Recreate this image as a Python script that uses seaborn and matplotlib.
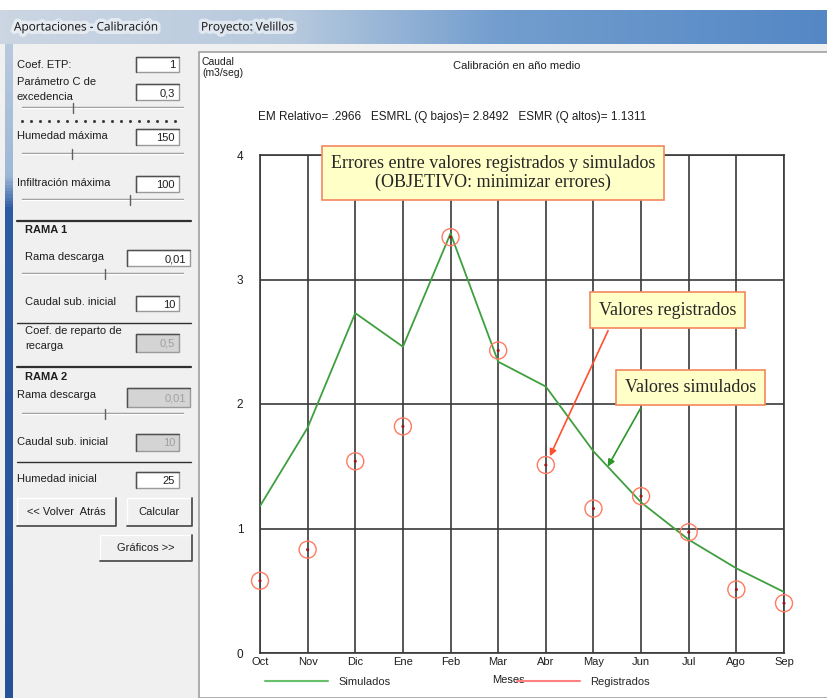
import numpy as np
import pandas as pd
import seaborn as sns
import matplotlib.pyplot as plt
import matplotlib.patheffects as pe
from matplotlib.patches import Rectangle
from matplotlib.lines import Line2D

# datos del grafico
meses = ['Oct', 'Nov', 'Dic', 'Ene', 'Feb', 'Mar', 'Abr', 'May', 'Jun', 'Jul', 'Ago', 'Sep']
simulados = [1.18, 1.81, 2.73, 2.46, 3.37, 2.34, 2.14, 1.62, 1.21, 0.91, 0.68, 0.49]
registrados = [0.58, 0.83, 1.54, 1.82, 3.34, 2.43, 1.51, 1.16, 1.26, 0.97, 0.51, 0.40]
y_ticks = [0, 1, 2, 3, 4]

# valores del panel izquierdo
coef_etp = '1'
param_c = '0,3'
humedad_max = '150'
infiltracion_max = '100'
rama1_descarga = '0,01'
rama1_caudal = '10'
coef_reparto = '0,5'
rama2_descarga = '0,01'
rama2_caudal = '10'
humedad_ini = '25'

titulo_ventana = 'Aportaciones - Calibración'
proyecto = 'Proyecto: Velillos'
errores = 'EM Relativo= .2966   ESMRL (Q bajos)= 2.8492   ESMR (Q altos)= 1.1311'

sns.set_style('white')
plt.rcParams['font.family'] = ['Liberation Sans', 'DejaVu Sans']

W, H = 828, 698
fig = plt.figure(figsize=(W / 100, H / 100), dpi=100)

# fondo en pixeles (ventana)
bg = fig.add_axes([0, 0, 1, 1])
bg.set_xlim(0, W)
bg.set_ylim(H, 0)
bg.axis('off')
bg.add_patch(Rectangle((0, 0), W, H, fc='#f0f0f0', ec='none'))
bg.add_patch(Rectangle((0, 0), W, 10, fc='white', ec='none'))

# barra de titulo con degradado
t = np.linspace(0, 1, 300)
stops = [0, 0.35, 0.6, 1]
cols = np.array([[0.80, 0.84, 0.89], [0.72, 0.79, 0.87], [0.45, 0.62, 0.81], [0.33, 0.53, 0.77]])
grad = np.stack([np.interp(t, stops, cols[:, i]) for i in range(3)], axis=-1)[None, :, :]
bg.imshow(grad, extent=(0, W, 44, 10), aspect='auto', zorder=1)
glow = [pe.withStroke(linewidth=5, foreground='white', alpha=0.55)]
bg.text(14, 27, titulo_ventana, fontsize=8.5, family='Open Sans', color='#1a1a1a', va='center', path_effects=glow, zorder=2)
bg.text(201, 27, proyecto, fontsize=8.5, family='Open Sans', color='#1a1a1a', va='center', path_effects=glow, zorder=2)

# franja azul a la izquierda
v = np.linspace(0, 1, 200)
vcols = np.array([[0.72, 0.79, 0.87], [0.62, 0.72, 0.84], [0.18, 0.36, 0.64], [0.15, 0.32, 0.60]])
vgrad = np.stack([np.interp(v, [0, 0.2, 0.25, 1], vcols[:, i]) for i in range(3)], axis=-1)[:, None, :]
bg.imshow(vgrad, extent=(5, 13, H, 44), aspect='auto', zorder=1)
bg.set_xlim(0, W)
bg.set_ylim(H, 0)

fs = 8


def etiqueta(x, y, txt, **kw):
    bg.text(x, y, txt, fontsize=fs, va='center', color='#1e1e1e', zorder=3, **kw)


def caja(x0, x1, y0, y1, txt, activo=True):
    bg.add_patch(Rectangle((x0, y0), x1 - x0, y1 - y0, fc='white' if activo else '#d4d4d4',
                           ec='#9a9a9a', lw=1, zorder=2))
    bg.plot([x0, x0, x1], [y1, y0, y0], color='#505050', lw=1, zorder=3)
    bg.text(x1 - 4, (y0 + y1) / 2 + 1, txt, fontsize=fs, ha='right', va='center',
            color='#1e1e1e' if activo else '#a0a0a0', zorder=3)


def deslizador(y, xt, x0=22, x1=183):
    bg.plot([x0, x1], [y, y], color='#8c8c8c', lw=1, zorder=2)
    bg.plot([x0, x1], [y + 1.2, y + 1.2], color='white', lw=1, zorder=2)
    bg.plot([xt, xt], [y - 4, y + 6], color='#606060', lw=1, zorder=3)


def separador(y, lw=1.6):
    bg.plot([17, 191], [y, y], color='#303030', lw=lw, zorder=2)


def boton(x0, x1, y0, y1, txt):
    bg.add_patch(Rectangle((x0, y0), x1 - x0, y1 - y0, fc='#f0f0f0', ec='white', lw=1, zorder=2))
    bg.plot([x0, x1, x1], [y1, y1, y0], color='#505050', lw=1.3, zorder=3)
    bg.text((x0 + x1) / 2, (y0 + y1) / 2, txt, fontsize=fs, ha='center', va='center', color='#1e1e1e', zorder=3)


etiqueta(17, 65, 'Coef. ETP:')
caja(136, 179, 57, 72, coef_etp)
etiqueta(17, 82, 'Parámetro C de')
etiqueta(17, 97, 'excedencia')
caja(136, 179, 84, 100, param_c)
deslizador(107, 73)
puntos = np.arange(22, 184, 9)
bg.scatter(puntos, np.full(len(puntos), 121), s=1.5, color='#404040', zorder=3)
etiqueta(17, 136, 'Humedad máxima')
caja(136, 179, 129, 145, humedad_max)
deslizador(153, 72)
etiqueta(17, 183, 'Infiltración máxima')
caja(136, 179, 176, 192, infiltracion_max)
deslizador(199, 130)

separador(221)
etiqueta(25, 230, 'RAMA 1', fontweight='bold')
etiqueta(25, 257, 'Rama descarga')
caja(127, 190, 250, 266, rama1_descarga)
deslizador(273, 105)
etiqueta(25, 302, 'Caudal sub. inicial')
caja(136, 179, 296, 311, rama1_caudal)
separador(323, lw=1)
etiqueta(25, 331, 'Coef. de reparto de')
etiqueta(25, 346, 'recarga')
caja(136, 179, 334, 352, coef_reparto, activo=False)

separador(367)
etiqueta(25, 377, 'RAMA 2', fontweight='bold')
etiqueta(17, 395, 'Rama descarga')
caja(127, 190, 388, 407, rama2_descarga, activo=False)
deslizador(413, 105)
etiqueta(17, 442, 'Caudal sub. inicial')
caja(136, 179, 434, 451, rama2_caudal, activo=False)
separador(462, lw=1)
etiqueta(17, 479, 'Humedad inicial')
caja(136, 179, 472, 488, humedad_ini)
boton(17, 116, 498, 526, '<< Volver  Atrás')
boton(127, 192, 498, 526, 'Calcular')
boton(100, 192, 535, 561, 'Gráficos >>')

# panel del grafico
bg.add_patch(Rectangle((199, 52), W - 199, H - 52, fc='white', ec='#a0a0a0', lw=1.2, zorder=2))
bg.text(202, 57, 'Caudal\n(m3/seg)', fontsize=7.5, va='top', ha='left', color='#1e1e1e', linespacing=1.1, zorder=3)
bg.text(517, 66, 'Calibración en año medio', fontsize=8, ha='center', va='center', color='#1e1e1e', zorder=3)
bg.text(258, 117, errores, fontsize=8.5, ha='left', va='center', color='#1e1e1e', zorder=3)

# grafico
ax = fig.add_axes([260 / W, 1 - 653 / H, 524 / W, 498 / H])
ax.set_facecolor('white')
df = pd.DataFrame({'mes': np.arange(len(meses)), 'Simulados': simulados, 'Registrados': registrados})

sns.lineplot(data=df, x='mes', y='Simulados', color='#3f9f3f', lw=1.3, ax=ax, zorder=3)
sns.scatterplot(data=df, x='mes', y='Registrados', marker='o', s=150, facecolor='none',
                edgecolor='#ff7a60', linewidth=1, ax=ax, zorder=4, clip_on=False)
sns.scatterplot(data=df, x='mes', y='Registrados', marker='o', s=5, color='#a01818',
                edgecolor='none', ax=ax, zorder=5, clip_on=False)

ax.set_xlim(0, len(meses) - 1)
ax.set_ylim(y_ticks[0], y_ticks[-1])
ax.set_xticks(df['mes'])
ax.set_xticklabels(meses)
ax.set_yticks(y_ticks)
ax.grid(True, color='#3a3a3a', lw=1.2)
ax.set_axisbelow(True)
for s in ax.spines.values():
    s.set_color('#3a3a3a')
    s.set_linewidth(1.2)
ax.tick_params(axis='x', length=0, pad=3, labelsize=8, colors='#1e1e1e')
ax.tick_params(axis='y', length=0, pad=12, labelsize=8.5, colors='#1e1e1e')
ax.set_xlabel('Meses', fontsize=8, color='#1e1e1e')
ax.xaxis.set_label_coords(0.475, -0.045)
ax.set_ylabel('')

# leyenda
handles = [Line2D([], [], color='#6abf6a', lw=1.5), Line2D([], [], color='#ff8080', lw=1.5)]
ax.legend(handles, ['Simulados', 'Registrados'], ncol=2, frameon=False, fontsize=8,
          loc='center left', bbox_to_anchor=(0.0095, -0.058), borderpad=0, borderaxespad=0,
          handlelength=5.7, handletextpad=0.9, columnspacing=11.4)

# anotaciones
caja_nota = dict(boxstyle='square,pad=0.5', fc='#ffffc8', ec='#f5875f', lw=1.2)
nota_font = dict(family='Liberation Serif', fontsize=13, color='#262626')
ax.text(4.89, 3.855, 'Errores entre valores registrados y simulados\n(OBJETIVO: minimizar errores)',
        ha='center', va='center', bbox=caja_nota, linespacing=1.15, zorder=6, **nota_font)
ax.annotate('Valores registrados', xy=(6, registrados[6]), xytext=(8.55, 2.755),
            ha='center', va='center', bbox=caja_nota, zorder=6,
            arrowprops=dict(arrowstyle='-|>', color='#ff5030', lw=1.2, shrinkB=7,
                            relpos=(0.11, 0), mutation_scale=10), **nota_font)
x_sim = 7.3
ax.annotate('Valores simulados', xy=(x_sim, np.interp(x_sim, df['mes'], simulados)), xytext=(9.04, 2.13),
            ha='center', va='center', bbox=caja_nota, zorder=6,
            arrowprops=dict(arrowstyle='-|>', color='#2a962a', lw=1.2, shrinkB=0,
                            relpos=(0.17, 0), mutation_scale=10), **nota_font)

fig.savefig('out.png', dpi=100)
